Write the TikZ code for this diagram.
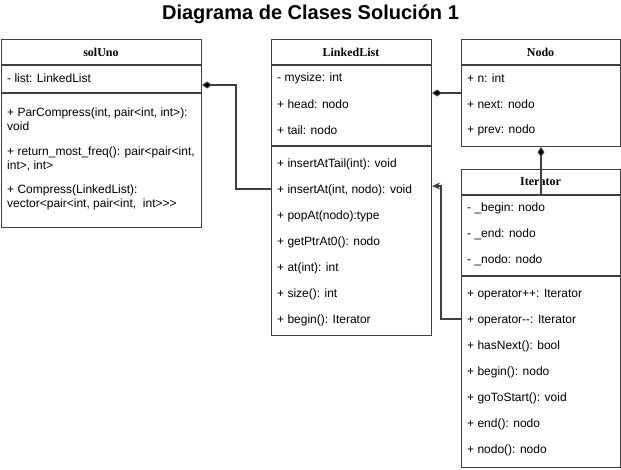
\documentclass[tikz,border=0pt]{standalone}
\usepackage{fontspec}
\setmainfont{Liberation Sans}
\newfontfamily\headfont{Liberation Serif}
\usetikzlibrary{arrows.meta, positioning}

\begin{document}
\begin{tikzpicture}[x=1pt,y=-1pt]
\tikzstyle{classbox} = [draw=black!75, line width=1.1pt, anchor=north west, inner sep=0pt]
\tikzstyle{classname} = [font=\headfont\bfseries\fontsize{12}{14}\selectfont]
\tikzstyle{member} = [anchor=west, inner sep=0pt, yshift=-1.5pt, align=left, font=\fontsize{12}{14}\selectfont]
\tikzstyle{sep} = [draw=black!75, line width=1.1pt]
\tikzstyle{compose} = [draw=black!75, line width=1.1pt, -{Diamond[length=10pt,width=7pt,fill=black]}]
\tikzstyle{arrow} = [draw=black!75, line width=1.1pt, -{Stealth[length=8pt,width=7pt]}]

\useasboundingbox (0,0) rectangle (621,469);

\node[font=\bfseries\fontsize{20}{24}\selectfont] (title) at (310.5,14) {Diagrama de Clases Solución 1};

% solUno
\node[classbox, minimum width=200pt, minimum height=188pt] (solUno) at (1,39) {};
\node[classname] (solUnoName) at (101,52) {solUno};
\draw[sep] (1,65) -- (201,65);
\node[member] (suList) at (7,77) {- list: LinkedList};
\draw[sep] (1,93) -- (201,93);
\node[member] (suPar) at (7,118) {+ ParCompress(int, pair<int, int>):\\void};
\node[member] (suFreq) at (7,157) {+ return\_most\_freq(): pair<pair<int,\\int>, int>};
\node[member] (suComp) at (7,196) {+ Compress(LinkedList):\\vector<pair<int, pair<int,~ int>{}>{}>};

% LinkedList
\node[classbox, minimum width=160pt, minimum height=296pt] (LinkedList) at (271,39) {};
\node[classname] (llName) at (351,52) {LinkedList};
\draw[sep] (271,65) -- (431,65);
\node[member] (llSize) at (277,77) {- mysize: int};
\node[member] (llHead) at (277,103) {+ head: nodo};
\node[member] (llTail) at (277,129) {+ tail: nodo};
\draw[sep] (271,146) -- (431,146);
\node[member] (llInsTail) at (277,163) {+ insertAtTail(int): void};
\node[member] (llInsAt) at (277,189) {+ insertAt(int, nodo): void};
\node[member] (llPop) at (277,215) {+ popAt(nodo):type};
\node[member] (llPtr) at (277,241) {+ getPtrAt0(): nodo};
\node[member] (llAt) at (277,267) {+ at(int): int};
\node[member] (llSz) at (277,293) {+ size(): int};
\node[member] (llBegin) at (277,319) {+ begin(): Iterator};

% Nodo
\node[classbox, minimum width=159pt, minimum height=107pt] (Nodo) at (461,39) {};
\node[classname] (nodoName) at (540.5,52) {Nodo};
\draw[sep] (461,65) -- (620,65);
\node[member] (ndN) at (467,77) {+ n: int};
\node[member] (ndNext) at (467,103) {+ next: nodo};
\node[member] (ndPrev) at (467,129) {+ prev: nodo};

% Iterator
\node[classbox, minimum width=159pt, minimum height=298pt] (Iterator) at (461,169) {};
\node[classname] (itName) at (540.5,182) {Iterator};
\draw[sep] (461,195) -- (620,195);
\node[member] (itBegin) at (467,207) {- \_begin: nodo};
\node[member] (itEnd) at (467,233) {- \_end: nodo};
\node[member] (itNodo) at (467,259) {- \_nodo: nodo};
\draw[sep] (461,276) -- (620,276);
\node[member] (itInc) at (467,293) {+ operator++: Iterator};
\node[member] (itDec) at (467,319) {+ operator-{}-: Iterator};
\node[member] (itHas) at (467,345) {+ hasNext(): bool};
\node[member] (itBeg) at (467,371) {+ begin(): nodo};
\node[member] (itStart) at (467,397) {+ goToStart(): void};
\node[member] (itEndM) at (467,423) {+ end(): nodo};
\node[member] (itNodoM) at (467,449) {+ nodo(): nodo};

% connectors
\coordinate (bendA) at (236,189);
\coordinate (bendB) at (236,85);
\coordinate (bendC) at (441,319);
\coordinate (bendD) at (441,186);
\coordinate (itHead) at (541,194);

\draw[compose] (LinkedList.west |- 0,189) -- (bendA) -- (bendB) -- (solUno.east |- bendB);
\draw[compose] (Nodo.west |- 0,93) -- (LinkedList.east |- 0,93);
\draw[compose] (itHead) -- (Nodo.south -| itHead);
\draw[arrow] (Iterator.west |- 0,319) -- (bendC) -- (bendD) -- (LinkedList.east |- bendD);
\end{tikzpicture}
\end{document}
